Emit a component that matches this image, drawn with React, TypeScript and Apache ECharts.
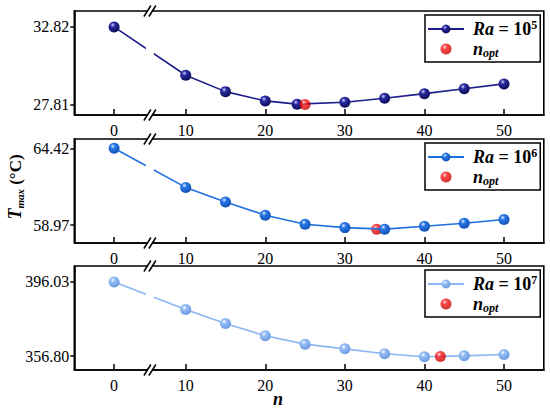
import React, { useEffect, useRef } from "react";
import * as echarts from "echarts";

// ---- data ----
const nRa5 = [0, 10, 15, 20, 24, 30, 35, 40, 45, 50];
const tRa5 = [32.82, 29.7, 28.64, 28.04, 27.83, 27.95, 28.21, 28.51, 28.83, 29.14];
const nRa6 = [0, 10, 15, 20, 25, 30, 35, 40, 45, 50];
const tRa6 = [64.42, 61.65, 60.62, 59.68, 59.04, 58.8, 58.69, 58.9, 59.11, 59.37];
const nRa7 = [0, 10, 15, 20, 25, 30, 35, 40, 45, 50];
const tRa7 = [396.03, 381.4, 374.07, 367.5, 363.1, 360.6, 358.0, 356.4, 356.9, 357.6];
const nOpt = [25, 34, 42];
const tOpt = [27.81, 58.68, 356.6];
const raExponents = ["5", "6", "7"];
const xTickValues = [0, 10, 20, 30, 40, 50];
const yTicks5 = [27.81, 32.82];
const yTicks6 = [58.97, 64.42];
const yTicks7 = [356.8, 396.03];

const FONT = "Liberation Serif, Times New Roman, serif";

const ball = (hi: string, base: string, dark: string) =>
  new echarts.graphic.RadialGradient(0.38, 0.32, 0.72, [
    { offset: 0, color: hi },
    { offset: 0.3, color: base },
    { offset: 1, color: dark },
  ]);

const tickRich = { v: { fontFamily: FONT, fontSize: 16, color: "#000" } };

export default function App() {
  const ref = useRef<HTMLDivElement>(null);

  useEffect(() => {
    document.body.style.margin = "0";
    if (!ref.current) return;
    const chart = echarts.init(ref.current, null, { renderer: "svg" });

    const panels = [
      { n: nRa5, t: tRa5, yTicks: yTicks5, yMin: 27.13, yMax: 33.85, top: 11, line: "#1c1c8a", ball: ball("#d0d0ff", "#2a2aa0", "#0a0a55"), optZ: 4 },
      { n: nRa6, t: tRa6, yTicks: yTicks6, yMin: 57.71, yMax: 65.08, top: 139, line: "#1e6fe0", ball: ball("#e2eeff", "#2a78e8", "#0f4fb0"), optZ: 1 },
      { n: nRa7, t: tRa7, yTicks: yTicks7, yMin: 349.4, yMax: 404.5, top: 266, line: "#8ab6f3", ball: ball("#f8fbff", "#94bdf5", "#6a97de"), optZ: 4 },
    ];
    const gridLeft = 74.3;
    const gridWidth = 469.5;
    const gridHeight = 104;
    const red = ball("#ffdada", "#ff1a1a", "#bb0000");

    const rich = {
      i: { fontFamily: FONT, fontWeight: "bold", fontStyle: "italic", fontSize: 18, lineHeight: 20, color: "#000", padding: [0, 0, 0, 4] },
      b: { fontFamily: FONT, fontWeight: "bold", fontSize: 18, lineHeight: 20, color: "#000" },
      sup: { fontFamily: FONT, fontWeight: "bold", fontSize: 12, lineHeight: 20, verticalAlign: "top", color: "#000" },
      sub: { fontFamily: FONT, fontWeight: "bold", fontStyle: "italic", fontSize: 12, lineHeight: 20, verticalAlign: "bottom", color: "#000" },
    };

    const labelMap: Record<string, string> = {};
    panels.forEach((p, i) => {
      labelMap[`Ra${i}`] = `{i|Ra}{b| = 10}{sup|${raExponents[i]}}`;
      labelMap[`opt${i}`] = `{i|n}{sub|opt}`;
    });

    const option: any = {
      animation: false,
      textStyle: { fontFamily: FONT },
      grid: panels.map((p) => ({
        left: gridLeft,
        top: p.top,
        width: gridWidth,
        height: gridHeight,
        show: true,
        borderColor: "#000",
        borderWidth: 1.6,
        backgroundColor: "transparent",
      })),
      xAxis: panels.map((p, i) => ({
        type: "value",
        gridIndex: i,
        min: -5,
        max: 55,
        breaks: [{ start: 4.5, end: 5.5, gap: 0.0001 }],
        breakArea: { show: false },
        axisLine: { show: true, onZero: false, lineStyle: { color: "#000", width: 1.6 } },
        axisTick: { show: true, inside: true, length: 6, customValues: xTickValues, lineStyle: { color: "#000", width: 1.5 } },
        axisLabel: {
          customValues: xTickValues,
          margin: 7,
          color: "#000",
          fontFamily: FONT,
          fontSize: 16,
          rich: tickRich,
          formatter: (v: number) => `{v|${Math.round(v)}}`,
        },
        splitLine: { show: false },
      })),
      yAxis: panels.map((p, i) => ({
        type: "value",
        gridIndex: i,
        min: p.yMin,
        max: p.yMax,
        axisLine: { show: true, onZero: false, lineStyle: { color: "#000", width: 1.6 } },
        axisTick: { show: true, inside: false, length: 4, customValues: p.yTicks, lineStyle: { color: "#000", width: 1.5 } },
        axisLabel: {
          customValues: p.yTicks,
          margin: 5,
          color: "#000",
          fontFamily: FONT,
          fontSize: 16,
          rich: tickRich,
          formatter: (v: number) => `{v|${v.toFixed(2)}}`,
        },
        splitLine: { show: false },
      })),
      legend: panels.map((p, i) => ({
        left: 425,
        top: p.top + 4,
        orient: "vertical",
        itemWidth: 36,
        itemHeight: 11,
        itemGap: 2,
        padding: [4, 3, 3, 2],
        borderColor: "#000",
        borderWidth: 1.5,
        borderRadius: 0,
        backgroundColor: "#fff",
        selectedMode: false,
        data: [`Ra${i}`, `opt${i}`],
        formatter: (name: string) => labelMap[name],
        textStyle: { rich, fontFamily: FONT, fontSize: 18 },
      })),
      series: panels.flatMap((p, i) => [
        {
          type: "line",
          name: `Ra${i}`,
          xAxisIndex: i,
          yAxisIndex: i,
          data: p.n.map((x, k) => [x, p.t[k]]),
          symbol: "circle",
          symbolSize: 11,
          showSymbol: true,
          lineStyle: { color: p.line, width: 1.6 },
          itemStyle: { color: p.ball },
          z: 2,
        },
        {
          type: "scatter",
          name: `opt${i}`,
          xAxisIndex: i,
          yAxisIndex: i,
          data: [[nOpt[i], tOpt[i]]],
          symbol: "circle",
          symbolSize: 11,
          itemStyle: { color: red },
          z: p.optZ,
        },
      ]),
    };

    chart.setOption(option);

    const graphics: any[] = [];
    panels.forEach((p, i) => {
      let bx = chart.convertToPixel({ xAxisIndex: i } as any, 4.5) as unknown as number;
      if (typeof bx !== "number" || isNaN(bx)) bx = gridLeft + (9.5 / 59) * gridWidth;
      const yT = p.top;
      const yB = p.top + gridHeight;
      graphics.push({
        type: "rect",
        silent: true,
        z: 100,
        shape: { x: bx - 4, y: yT + 1.5, width: 8, height: gridHeight - 3 },
        style: { fill: "#fff" },
      });
      [yT, yB].forEach((y) => {
        graphics.push({
          type: "rect",
          silent: true,
          z: 100,
          shape: { x: bx - 2.5, y: y - 2, width: 5, height: 4 },
          style: { fill: "#fff" },
        });
        [bx - 2.5, bx + 2.5].forEach((c) => {
          graphics.push({
            type: "line",
            silent: true,
            z: 101,
            shape: { x1: c - 3.5, y1: y + 5.5, x2: c + 3.5, y2: y - 5.5 },
            style: { stroke: "#000", lineWidth: 1.5 },
          });
        });
      });
    });

    graphics.push({
      type: "text",
      x: 15,
      y: 187,
      rotation: Math.PI / 2,
      z: 100,
      style: {
        text: "{t|T}{s|max}{c| (°C)}",
        align: "center",
        verticalAlign: "middle",
        rich: {
          t: { fontFamily: FONT, fontWeight: "bold", fontStyle: "italic", fontSize: 18, lineHeight: 20, fill: "#000" },
          s: { fontFamily: FONT, fontWeight: "bold", fontStyle: "italic", fontSize: 11, lineHeight: 20, verticalAlign: "bottom", fill: "#000" },
          c: { fontFamily: FONT, fontWeight: "bold", fontSize: 17, lineHeight: 20, fill: "#000" },
        },
      },
    });
    graphics.push({
      type: "text",
      x: 278,
      y: 399,
      z: 100,
      style: {
        text: "n",
        fontFamily: FONT,
        fontWeight: "bold",
        fontStyle: "italic",
        fontSize: 18,
        fill: "#000",
        align: "center",
        verticalAlign: "middle",
      },
    });

    chart.setOption({ graphic: graphics });

    return () => chart.dispose();
  }, []);

  return <div ref={ref} style={{ width: 550, height: 410 }} />;
}
